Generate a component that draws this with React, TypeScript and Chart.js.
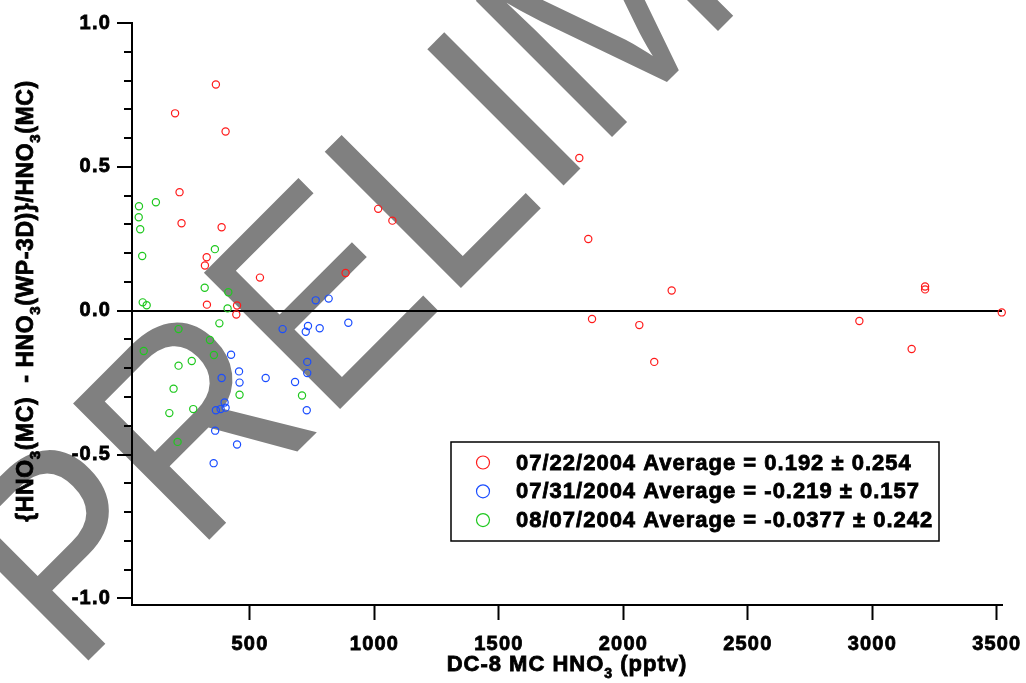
import React, { useEffect, useRef } from "react";
import { Chart, registerables } from "chart.js";

Chart.register(...registerables);

// ---- data ----
const SERIES_LABELS = [
  "07/22/2004 Average = 0.192 ± 0.254",
  "07/31/2004 Average = -0.219 ± 0.157",
  "08/07/2004 Average = -0.0377 ± 0.242",
];
const SERIES_COLORS = ["#ff1a1a", "#1a4dff", "#1ec81e"];

const RED_X = [199, 363, 402, 217, 225, 386, 326, 319, 540, 884, 1015, 1072, 327, 448, 445, 1823, 1859, 2194, 1874, 2064, 2124, 2948, 3158, 3212, 3212, 3520];
const RED_Y = [0.686, 0.786, 0.623, 0.412, 0.304, 0.29, 0.186, 0.157, 0.115, 0.131, 0.354, 0.313, 0.021, 0.018, -0.013, 0.531, 0.249, 0.07, -0.029, -0.05, -0.178, -0.036, -0.133, 0.084, 0.074, -0.006];

const BLUE_X = [764, 816, 631, 733, 724, 780, 895, 424, 730, 730, 456, 386, 458, 563, 681, 398, 363, 382, 402, 728, 360, 448, 354];
const BLUE_Y = [0.036, 0.042, -0.064, -0.053, -0.073, -0.061, -0.042, -0.153, -0.178, -0.217, -0.211, -0.234, -0.25, -0.234, -0.248, -0.319, -0.346, -0.342, -0.337, -0.346, -0.417, -0.465, -0.53];

const GREEN_X = [54, 122, 53, 59, 67, 359, 318, 413, 69, 85, 410, 377, 213, 339, 73, 355, 266, 213, 193, 458, 709, 272, 176, 209];
const GREEN_Y = [0.363, 0.377, 0.325, 0.283, 0.19, 0.214, 0.08, 0.064, 0.029, 0.019, 0.008, -0.044, -0.064, -0.102, -0.14, -0.154, -0.175, -0.191, -0.271, -0.292, -0.295, -0.342, -0.356, -0.456];

const X_TICKS = [500, 1000, 1500, 2000, 2500, 3000, 3500];
const X_TICK_LABELS = ["500", "1000", "1500", "2000", "2500", "3000", "3500"];
const Y_TICKS = [-1.0, -0.9, -0.8, -0.7, -0.6, -0.5, -0.4, -0.3, -0.2, -0.1, 0.0, 0.1, 0.2, 0.3, 0.4, 0.5, 0.6, 0.7, 0.8, 0.9, 1.0];
const Y_MAJOR_TICKS = [-1.0, -0.5, 0.0, 0.5, 1.0];
const Y_TICK_LABELS = ["-1.0", "-0.5", "0.0", "0.5", "1.0"];

const X_MIN = 26;
const X_MAX = 3521;
const Y_MIN = -1.023;
const Y_MAX = 1.0;

type Part = { t: string; sub?: boolean };
const X_TITLE: Part[] = [{ t: "DC-8 MC HNO" }, { t: "3", sub: true }, { t: " (pptv)" }];
const Y_TITLE: Part[] = [
  { t: "{HNO" }, { t: "3", sub: true }, { t: "(MC)  - HNO" }, { t: "3", sub: true },
  { t: "(WP-3D)}/HNO" }, { t: "3", sub: true }, { t: "(MC)" },
];
const WATERMARK = "PRELIMINARY";

const FAMILY = '"Liberation Sans", Arial, Helvetica, sans-serif';

function majorIndex(v: number): number {
  return Y_MAJOR_TICKS.findIndex((m) => Math.abs(m - v) < 1e-6);
}

function drawRich(ctx: CanvasRenderingContext2D, parts: Part[], size: number) {
  const subSize = Math.round(size * 0.64);
  const fontFor = (p: Part) => `bold ${p.sub ? subSize : size}px ${FAMILY}`;
  let total = 0;
  const widths = parts.map((p) => {
    ctx.font = fontFor(p);
    const w = ctx.measureText(p.t).width;
    total += w;
    return w;
  });
  let x = -total / 2;
  ctx.textAlign = "left";
  ctx.textBaseline = "alphabetic";
  ctx.strokeStyle = "#000";
  ctx.lineWidth = 0.8;
  parts.forEach((p, i) => {
    ctx.font = fontFor(p);
    const y = p.sub ? size * 0.3 : 0;
    ctx.fillText(p.t, x, y);
    ctx.strokeText(p.t, x, y);
    x += widths[i];
  });
}

const customPlugin = {
  id: "custom",
  beforeDraw(chart: any) {
    const ctx: CanvasRenderingContext2D = chart.ctx;
    // watermark
    ctx.save();
    (ctx as any).letterSpacing = "0px";
    ctx.font = `normal 280px ${FAMILY}`;
    const off = ctx.measureText("PREL").width + ctx.measureText("I").width / 2;
    ctx.translate(572, 177);
    ctx.rotate(-Math.PI / 4);
    ctx.scale(0.915, 1);
    ctx.fillStyle = "#808080";
    ctx.textAlign = "left";
    ctx.textBaseline = "alphabetic";
    ctx.fillText(WATERMARK, -off, 0);
    ctx.restore();
    (ctx as any).letterSpacing = "1.2px";
  },
  afterDraw(chart: any) {
    const ctx: CanvasRenderingContext2D = chart.ctx;
    const ys = chart.scales.y;
    const area = chart.chartArea;
    // minor ticks
    ctx.save();
    ctx.strokeStyle = "#000";
    ctx.lineWidth = 2;
    for (const t of ys.ticks) {
      if (majorIndex(t.value) >= 0) continue;
      const y = Math.round(ys.getPixelForValue(t.value));
      ctx.beginPath();
      ctx.moveTo(area.left - 8, y);
      ctx.lineTo(area.left, y);
      ctx.stroke();
    }
    ctx.restore();

    // axis titles
    ctx.save();
    ctx.fillStyle = "#000";
    (ctx as any).letterSpacing = "1px";
    ctx.save();
    ctx.translate((area.left + area.right) / 2, 671);
    drawRich(ctx, X_TITLE, 22);
    ctx.restore();
    (ctx as any).letterSpacing = "0.6px";
    ctx.save();
    ctx.translate(33, 301);
    ctx.rotate(-Math.PI / 2);
    drawRich(ctx, Y_TITLE, 23);
    ctx.restore();
    ctx.restore();

    // legend
    ctx.save();
    const bx = 451, by = 442, bw = 488, bh = 99;
    ctx.fillStyle = "#fff";
    ctx.fillRect(bx, by, bw, bh);
    ctx.strokeStyle = "#000";
    ctx.lineWidth = 1.5;
    ctx.strokeRect(bx, by, bw, bh);
    (ctx as any).letterSpacing = "1px";
    ctx.font = `bold 22px ${FAMILY}`;
    ctx.textAlign = "left";
    ctx.textBaseline = "middle";
    chart.data.datasets.forEach((ds: any, i: number) => {
      const cy = 462.5 + i * 28.8;
      ctx.beginPath();
      ctx.arc(483, cy, 6.5, 0, Math.PI * 2);
      ctx.strokeStyle = ds.borderColor;
      ctx.lineWidth = 1.2;
      ctx.stroke();
      ctx.fillStyle = "#000";
      ctx.strokeStyle = "#000";
      ctx.lineWidth = 0.8;
      ctx.fillText(ds.label, 516, cy + 1);
      ctx.strokeText(ds.label, 516, cy + 1);
    });
    ctx.restore();
    (ctx as any).letterSpacing = "0px";
  },
};

export default function App() {
  const canvasRef = useRef<HTMLCanvasElement | null>(null);

  useEffect(() => {
    document.body.style.margin = "0";
    const canvas = canvasRef.current;
    if (!canvas) return;
    const mk = (xs: number[], ys: number[]) => xs.map((x, i) => ({ x, y: ys[i] }));
    const seriesData = [mk(RED_X, RED_Y), mk(BLUE_X, BLUE_Y), mk(GREEN_X, GREEN_Y)];
    const tickFont = { family: FAMILY, size: 20, weight: "bold" as const };

    const chart = new Chart(canvas, {
      type: "scatter",
      data: {
        datasets: seriesData.map((d, i) => ({
          label: SERIES_LABELS[i],
          data: d,
          borderColor: SERIES_COLORS[i],
          backgroundColor: "rgba(0,0,0,0)",
          pointBorderColor: SERIES_COLORS[i],
          pointBackgroundColor: "rgba(0,0,0,0)",
          pointRadius: 3.6,
          pointBorderWidth: 1.2,
          pointStyle: "circle",
          showLine: false,
          clip: false as any,
        })),
      },
      options: {
        animation: false,
        responsive: false,
        maintainAspectRatio: false,
        devicePixelRatio: 1,
        layout: { padding: { top: 23, right: 24, left: 0, bottom: 0 } },
        plugins: {
          legend: { display: false },
          tooltip: { enabled: false },
        },
        scales: {
          x: {
            type: "linear",
            min: X_MIN,
            max: X_MAX,
            afterBuildTicks: (s: any) => {
              s.ticks = X_TICKS.map((v) => ({ value: v }));
            },
            afterFit: (s: any) => {
              s.height = 78;
              s.paddingLeft = 0;
              s.paddingRight = 0;
            },
            grid: {
              drawOnChartArea: false,
              drawTicks: true,
              tickLength: 15,
              tickColor: "#000",
              tickWidth: 2,
            },
            border: { display: true, color: "#000", width: 2 },
            ticks: {
              color: "#000",
              font: tickFont,
              padding: 12,
              maxRotation: 0,
              autoSkip: false,
              textStrokeColor: "#000",
              textStrokeWidth: 0.8,
              callback: (v: any) => {
                const i = X_TICKS.indexOf(Number(v));
                return i >= 0 ? X_TICK_LABELS[i] : "";
              },
            },
          },
          y: {
            type: "linear",
            min: Y_MIN,
            max: Y_MAX,
            afterBuildTicks: (s: any) => {
              s.ticks = Y_TICKS.map((v) => ({ value: v }));
            },
            afterFit: (s: any) => {
              s.width = 132;
              s.paddingTop = 0;
              s.paddingBottom = 0;
            },
            grid: {
              drawOnChartArea: true,
              drawTicks: true,
              tickLength: 15,
              color: (c: any) => (c.tick && Math.abs(c.tick.value) < 1e-6 ? "#000" : "rgba(0,0,0,0)"),
              lineWidth: 2,
              tickColor: (c: any) => (c.tick && majorIndex(c.tick.value) >= 0 ? "#000" : "rgba(0,0,0,0)"),
              tickWidth: 2,
            },
            border: { display: true, color: "#000", width: 2 },
            ticks: {
              color: "#000",
              font: tickFont,
              padding: 6,
              autoSkip: false,
              textStrokeColor: "#000",
              textStrokeWidth: 0.8,
              callback: (v: any) => {
                const i = majorIndex(Number(v));
                return i >= 0 ? Y_TICK_LABELS[i] : "";
              },
            },
          },
        },
      },
      plugins: [customPlugin],
    } as any);

    return () => chart.destroy();
  }, []);

  return (
    <div style={{ position: "fixed", left: 0, top: 0, width: 1026, height: 683, background: "#fff" }}>
      <canvas ref={canvasRef} width={1026} height={683} style={{ display: "block", width: 1026, height: 683 }} />
    </div>
  );
}
